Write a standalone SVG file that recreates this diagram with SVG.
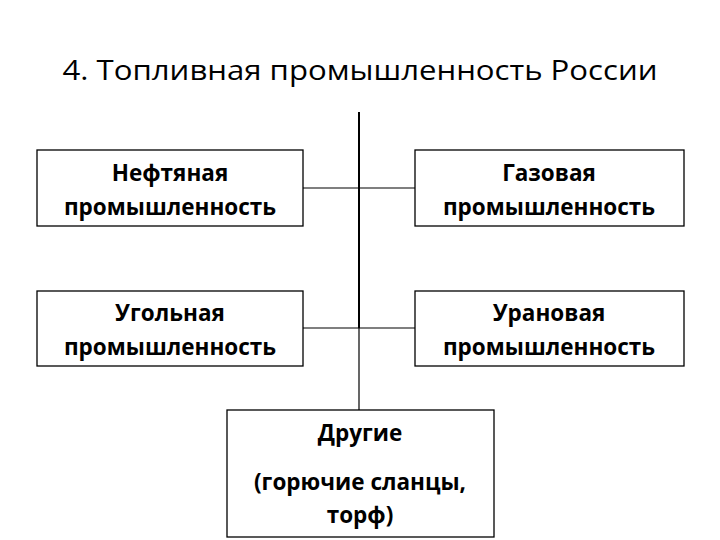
<svg xmlns="http://www.w3.org/2000/svg" width="720" height="540" viewBox="0 0 720 540">
<style>
.box{fill:#fff;stroke:#000;stroke-width:1.3}
.t{font-family:"Open Sans","Noto Sans",sans-serif;font-weight:bold;font-size:22.5px;text-anchor:middle;fill:#000}
.title{font-family:"Open Sans","Noto Sans",sans-serif;font-size:27px;text-anchor:middle;fill:#000}
.c{stroke:#000;fill:none}
</style>
<rect width="720" height="540" fill="#fff"/>
<text class="title" x="360" y="80" textLength="595" lengthAdjust="spacingAndGlyphs">4. Топливная промышленность России</text>
<g id="connectors">
<line class="c" x1="359" y1="112" x2="359" y2="328" stroke-width="2"/>
<line class="c" x1="359" y1="328" x2="359" y2="410" stroke-width="1.2"/>
<line class="c" x1="303" y1="188" x2="415" y2="188" stroke-width="1.2"/>
<line class="c" x1="303" y1="328" x2="415" y2="328" stroke-width="1.2"/>
</g>
<g id="oil">
<rect class="box" x="37" y="150" width="266" height="76"/>
<text class="t" x="170" y="181">Нефтяная</text>
<text class="t" x="170" y="215">промышленность</text>
</g>
<g id="gas">
<rect class="box" x="415" y="150" width="269" height="76"/>
<text class="t" x="549" y="181">Газовая</text>
<text class="t" x="549" y="215">промышленность</text>
</g>
<g id="coal">
<rect class="box" x="37" y="291" width="266" height="75"/>
<text class="t" x="170" y="321">Угольная</text>
<text class="t" x="170" y="355">промышленность</text>
</g>
<g id="uranium">
<rect class="box" x="415" y="291" width="269" height="75"/>
<text class="t" x="549" y="321">Урановая</text>
<text class="t" x="549" y="355">промышленность</text>
</g>
<g id="other">
<rect class="box" x="227" y="410" width="267" height="127"/>
<text class="t" x="360" y="441">Другие</text>
<text class="t" x="360" y="490">(горючие сланцы,</text>
<text class="t" x="360" y="523">торф)</text>
</g>
</svg>
